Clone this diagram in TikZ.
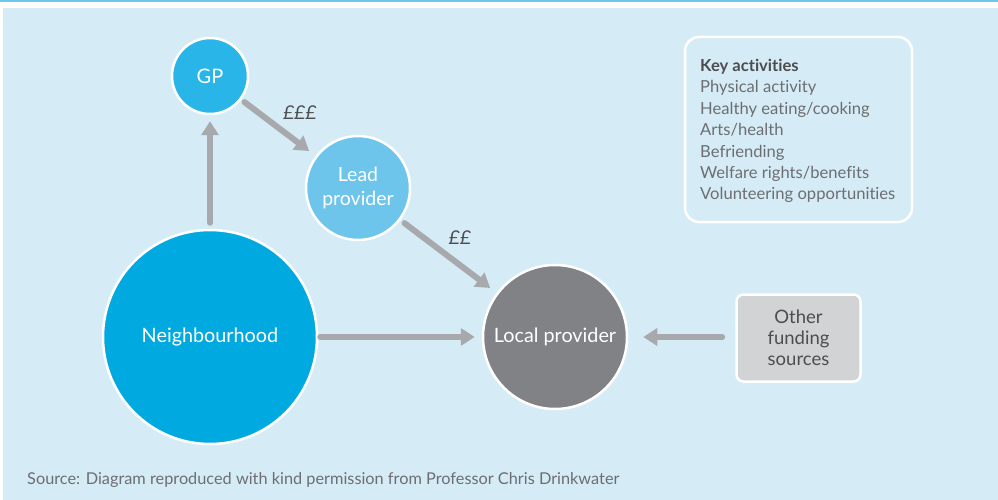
\documentclass[tikz,border=0pt]{standalone}
\usepackage{fontspec}
\setmainfont{Lato}[Ligatures={NoCommon}]
\usetikzlibrary{arrows.meta}
\definecolor{bgblue}{HTML}{D5ECF7}
\definecolor{topblue}{HTML}{6EC6EA}
\definecolor{gpblue}{HTML}{29B5E8}
\definecolor{leadblue}{HTML}{6EC5EC}
\definecolor{nbblue}{HTML}{00A9E0}
\definecolor{localgray}{HTML}{808285}
\definecolor{boxgray}{HTML}{D1D3D4}
\definecolor{arrgray}{HTML}{A7A9AC}
\definecolor{txtdark}{HTML}{4D4D4F}
\definecolor{txtgray}{HTML}{6D6E71}
\tikzset{
  bubble/.style={circle, draw=white, line width=2.5pt, text=white, align=center, inner sep=0pt},
  arr/.style={draw=arrgray, line width=6pt, line cap=round,
    -{Triangle[length=14pt,width=17pt]}},
  money/.style={text=txtdark, font=\fontsize{19}{22}\selectfont\itshape},
}
\begin{document}
\begin{tikzpicture}[x=1pt,y=-1pt]
\useasboundingbox (0,0) rectangle (998,500);
\fill[topblue] (0,0) rectangle (998,2.5);
\fill[bgblue] (3,8) rectangle (998,500);
% nodes
\node[bubble, fill=gpblue, minimum size=76pt, font=\fontsize{20}{22}\selectfont] (gp) at (210,76) {GP};
\node[bubble, fill=leadblue, minimum size=104pt, font=\fontsize{19.5}{24}\selectfont] (lead) at (358,188) {Lead\\provider};
\node[bubble, fill=nbblue, minimum size=214pt, font=\fontsize{19.8}{22}\selectfont] (nb) at (210,337) {\raisebox{-1.5pt}{Neighbourhood}};
\node[bubble, fill=localgray, minimum size=144pt, font=\fontsize{19.8}{22}\selectfont] (local) at (555,337) {\raisebox{-1.5pt}{Local provider}};
\node[draw=white, line width=2.5pt, fill=boxgray, rounded corners=7pt, minimum width=124pt, minimum height=87pt,
  text=txtdark, align=center, font=\fontsize{18.5}{21}\selectfont] (other) at (798.5,338) {Other\\funding\\sources};
\node[draw=white, line width=2.5pt, rounded corners=14pt, minimum width=227pt, minimum height=185pt] (key) at (798.5,129.5) {};
\node[anchor=north west, align=left, text=txtgray, font=\fontsize{16.6}{21.4}\selectfont, inner sep=0pt] (keytext) at (700,59)
  {\textcolor{txtdark}{\bfseries Key activities}\\Physical activity\\Healthy eating/cooking\\Arts/health\\Befriending\\Welfare rights/benefits\\Volunteering opportunities};
% connectors
\draw[arr, shorten <=6pt, shorten >=6pt] (nb) -- (gp);
\draw[arr, shorten <=4pt, shorten >=8pt] (gp) -- (lead);
\draw[arr, shorten <=5pt, shorten >=8pt] (lead) -- (local);
\draw[arr, shorten <=2pt, shorten >=7pt] (nb) -- (local);
\draw[arr, shorten <=13pt, shorten >=15pt] (other.west |- local) -- (local);
% labels
\node[money] (l3) at (300,113) {£££};
\node[money] (l2) at (460,238) {££};
\node[anchor=west, text=txtgray, font=\fontsize{16.3}{18}\selectfont, inner sep=0pt] (src) at (27,480)
  {Source: Diagram reproduced with kind permission from Professor Chris Drinkwater};
\end{tikzpicture}
\end{document}
